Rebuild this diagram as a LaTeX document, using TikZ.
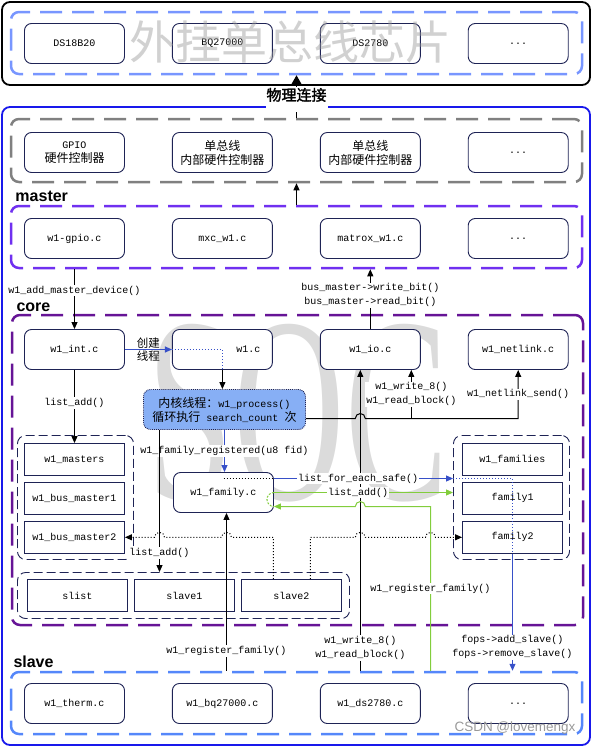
\documentclass[tikz,border=0pt]{standalone}
\usepackage{fontspec}
\usepackage{graphicx}
\setmainfont{Liberation Mono}
\newfontfamily\cjk{Noto Sans CJK SC}
\newfontfamily\cjkbold{Noto Sans CJK SC}[FakeBold=2]
\newfontfamily\headfont{Liberation Sans}
\newfontfamily\markfont{Liberation Serif}
\usetikzlibrary{arrows.meta, positioning, calc}

\definecolor{boxline}{RGB}{30,35,85}
\definecolor{socblue}{RGB}{25,25,235}
\definecolor{chipdash}{RGB}{120,150,255}
\definecolor{hwdash}{RGB}{128,128,128}
\definecolor{masterdash}{RGB}{112,48,240}
\definecolor{coredash}{RGB}{102,20,150}
\definecolor{slavedash}{RGB}{85,135,250}
\definecolor{flowblue}{RGB}{55,80,200}
\definecolor{flowgreen}{RGB}{130,205,60}
\definecolor{procfill}{RGB}{135,175,245}

\newcommand{\zh}[1]{{\cjk\fontsize{12}{14}\selectfont #1}}

\begin{document}
\begin{tikzpicture}[
      x=1pt, y=-1pt,
      line width=1pt,
      >={Triangle[length=7pt,width=6pt]},
      every node/.style={font=\fontsize{10}{14}\selectfont},
      cbox/.style={rectangle, draw=boxline, line width=0.9pt, rounded corners=7pt, fill=white, minimum width=100pt, minimum height=40pt, inner sep=0pt, align=center},
      item/.style={rectangle, draw=boxline, line width=0.9pt, fill=white, minimum width=100pt, minimum height=32pt, inner sep=0pt},
      group/.style={rectangle, draw=boxline, line width=0.9pt, dash pattern=on 9pt off 4pt, rounded corners=8pt, inner sep=0pt},
      area/.style={rectangle, draw=#1, line width=2.5pt, dash pattern=on 22pt off 10pt, rounded corners=8pt, inner sep=0pt},
      frame/.style={rectangle, draw=#1, line width=1.8pt, rounded corners=8pt, inner sep=0pt},
      proc/.style={rectangle, draw=boxline, densely dotted, line width=0.9pt, fill=procfill, rounded corners=7pt, minimum width=162pt, minimum height=40pt, inner sep=0pt, align=center},
      lbl/.style={fill=white, text=black, inner sep=1pt, align=center},
      dots/.style={dash pattern=on 1pt off 2pt},
      head/.style={font=\headfont\bfseries\fontsize{16}{16}\selectfont, anchor=west, inner sep=0pt}
    ]
    \useasboundingbox (0,0) rectangle (593,747);

    % Frames
    \node[frame=black, minimum width=588pt, minimum height=83pt] (chipframe) at (296,43.5) {};
    \node[frame=socblue, minimum width=588pt, minimum height=638pt] (soc) at (296,426) {};
    \node[area=chipdash, minimum width=571pt, minimum height=62pt] (chips) at (296.5,43) {};
    \node[area=hwdash, minimum width=571pt, minimum height=63pt] (hw) at (296.5,150.5) {};
    \node[area=masterdash, minimum width=571pt, minimum height=62pt] (master) at (296.5,237) {};
    \node[area=coredash, minimum width=571pt, minimum height=310pt] (core) at (297.5,470) {};
    \node[area=slavedash, minimum width=571pt, minimum height=62pt] (slaves) at (296.5,703) {};

    \node[head] (masterhead) at (15,196) {master};
    \node[head] (corehead) at (16,307) {core};
    \node[head] (slavehead) at (13,662) {slave};

    % Watermark
    \node[text=black!14, inner sep=0pt] (socmark) at (298,413) {\resizebox{300pt}{175pt}{\markfont SOC}};

    % Chips
    \node[cbox] (ds18) at (74.5,43.5) {DS18B20};
    \node[cbox, right=47pt of ds18] (bq) {BQ27000};
    \node[cbox, right=47pt of bq] (ds27) {DS2780};
    \node[cbox, right=47pt of ds27] (chipmore) {...};

    % Controllers
    \node[cbox] (gpio) at (74.5,152.5) {GPIO\\\zh{硬件控制器}};
    \node[cbox, right=47pt of gpio] (ctrla) {\zh{单总线}\\\zh{内部硬件控制器}};
    \node[cbox, right=47pt of ctrla] (ctrlb) {\zh{单总线}\\\zh{内部硬件控制器}};
    \node[cbox, right=47pt of ctrlb] (ctrlmore) {...};

    % Master drivers
    \node[cbox] (wgpio) at (74.5,238.5) {w1-gpio.c};
    \node[cbox, right=47pt of wgpio] (mxc) {mxc\_w1.c};
    \node[cbox, right=47pt of mxc] (matrox) {matrox\_w1.c};
    \node[cbox, right=47pt of matrox] (mastermore) {...};

    % Core
    \node[cbox] (wint) at (74.5,349.5) {w1\_int.c};
    \node[cbox, right=47pt of wint] (w1) {\hspace*{52pt}w1.c};
    \node[cbox, right=47pt of w1] (wio) {w1\_io.c};
    \node[cbox, right=47pt of wio] (wnet) {w1\_netlink.c};
    \node[proc] (proc) at (224.5,409.5) {\zh{内核线程：}w1\_process()\\\zh{循环执行} search\_count \zh{次}};
    \node[cbox] (wfam) at (223.5,492.5) {w1\_family.c};

    \node[group, minimum width=116pt, minimum height=124pt] (mgroup) at (75.5,497.5) {};
    \node[item] (wmasters) at (74.5,459.5) {w1\_masters};
    \node[item, below=6pt of wmasters] (bm1) {w1\_bus\_master1};
    \node[item, below=6pt of bm1] (bm2) {w1\_bus\_master2};

    \node[group, minimum width=116pt, minimum height=124pt] (fgroup) at (511.5,497.5) {};
    \node[item] (wfams) at (512.5,459.5) {w1\_families};
    \node[item, below=6pt of wfams] (fam1) {family1};
    \node[item, below=6pt of fam1] (fam2) {family2};

    \node[group, minimum width=332pt, minimum height=46pt] (sgroup) at (183.5,595.5) {};
    \node[item] (slist) at (77.5,595.5) {slist};
    \node[item, right=6pt of slist] (sl1) {slave1};
    \node[item, right=6pt of sl1] (sl2) {slave2};

    % Slave drivers
    \node[cbox] (therm) at (74.5,703.5) {w1\_therm.c};
    \node[cbox, right=47pt of therm] (bqdrv) {w1\_bq27000.c};
    \node[cbox, right=47pt of bqdrv] (dsdrv) {w1\_ds2780.c};
    \node[cbox, right=47pt of dsdrv] (slavemore) {...};

    % Bend points
    \coordinate (busy) at (0,418.5);
    \coordinate (fy) at (0,478.5);
    \coordinate (gup) at (430.5,506.5);
    \coordinate (ioin) at ($(wio.south)+(-10,0)$);
    \coordinate (iorw) at ($(wio.south)+(41,0)$);
    \coordinate (pl) at ($(proc.south)+(-65,0)$);
    \coordinate (rfx) at ($(wfam.south)+(3,0)$);
    \coordinate (s2l) at ($(sl2.north)+(-18,0)$);
    \coordinate (s2r) at ($(sl2.north)+(19,0)$);

    % Connections
    \draw[->, line width=1.5pt, >={Triangle[length=10pt,width=11pt]}] (hw.north) -- node[lbl, pos=0.435, inner sep=1pt, text depth=10pt, font=\cjkbold\fontsize{15}{15}\selectfont] {物理连接} (chips.south);
    \draw[->] (master.north) -- (hw.south);
    \draw[->] (master.south -| wint.north) -- node[lbl, pos=0.36] {w1\_add\_master\_device()} (wint.north);
    \draw[->] (wio.north) -- node[lbl, pos=0.566] {bus\_master->write\_bit()\\bus\_master->read\_bit()} (master.south -| wio.north);

    \draw[->, flowblue] (wint.east) -- node[above=1pt, inner sep=0pt, text=black, font=\cjk\fontsize{11.5}{12}\selectfont] {创建} node[below=1pt, inner sep=0pt, text=black, font=\cjk\fontsize{11.5}{12}\selectfont] {线程} (w1.west);
    \draw[flowblue, dots] (w1.west) -| (w1.south);
    \draw[->] (w1.south) -- (w1.south |- proc.north);

    \draw[->] (proc.east |- busy) -- ($(ioin |- busy)+(-5,0)$) arc[start angle=180, end angle=360, radius=5] -| node[lbl, pos=0.75] {w1\_netlink\_send()} (wnet.south);
    \draw[->] (iorw |- busy) -- node[lbl] {w1\_write\_8()\\w1\_read\_block()} (iorw);
    \draw[->] (slaves.north -| ioin) -- node[lbl, pos=0.076] {w1\_write\_8()\\w1\_read\_block()} (ioin);

    \draw[->, flowblue] (proc.south) -- node[lbl] {w1\_family\_registered(u8 fid)} (proc.south |- wfam.north);
    \draw[->] (pl) -- node[lbl, pos=0.867] {list\_add()} (pl |- sgroup.north);
    \draw[->] (wint.south) -- node[lbl, pos=0.45] {list\_add()} (wint.south |- wmasters.north);
    \draw[->] (slaves.north -| rfx) -- node[lbl, pos=0.125] {w1\_register\_family()} (rfx);

    \draw[->, flowgreen] (slaves.north -| gup) -- node[lbl] {w1\_register\_family()} (gup) -- ($(ioin |- gup)+(5,0)$) arc[start angle=0, end angle=-180, radius=5] -- (wfam.east |- gup);
    \draw[->, flowgreen] (wfam.east) -- node[lbl, pos=0.47] {list\_add()} (wfam.east -| fgroup.west);
    \draw[flowgreen, dash pattern=on 2pt off 1.5pt] (wfam.east) arc[start angle=-90, end angle=-270, radius=7];

    \draw[dots] (wfam.north |- fy) -- (wfam.east |- fy);
    \draw[->, flowblue] (wfam.east |- fy) -- node[lbl, pos=0.47] {list\_for\_each\_safe()} (fgroup.west |- fy);
    \draw[flowblue, dots] (fgroup.west |- fy) -| (fam2.south);
    \draw[->, flowblue] (fam2.south) -- node[lbl, pos=0.8] {fops->add\_slave()\\fops->remove\_slave()} (fam2.south |- slaves.north);

    \draw[->, dots] (s2l) -- (s2l |- bm2.east) -- ($(rfx |- bm2.east)+(5,0)$) arc[start angle=0, end angle=-180, radius=5] -- ($(pl |- bm2.east)+(5,0)$) arc[start angle=0, end angle=-180, radius=5] -- (bm2.east);
    \draw[->, dots] (s2r) -- (s2r |- fam2.west) -- ($(ioin |- fam2.west)+(-5,0)$) arc[start angle=180, end angle=360, radius=5] -- ($(gup |- fam2.west)+(-5,0)$) arc[start angle=180, end angle=360, radius=5] -- (fam2.west);

    % Marks
    \node[text=black!40, text opacity=0.45, inner sep=0pt, font=\cjk\fontsize{46}{46}\selectfont] (chipmark) at (290,42) {外挂单总线芯片};
    \node[text=black!40, inner sep=0pt, font=\headfont\fontsize{13.5}{14}\selectfont] (csdn) at (515,728) {CSDN @lovemengx};

    \end{tikzpicture}
\end{document}
